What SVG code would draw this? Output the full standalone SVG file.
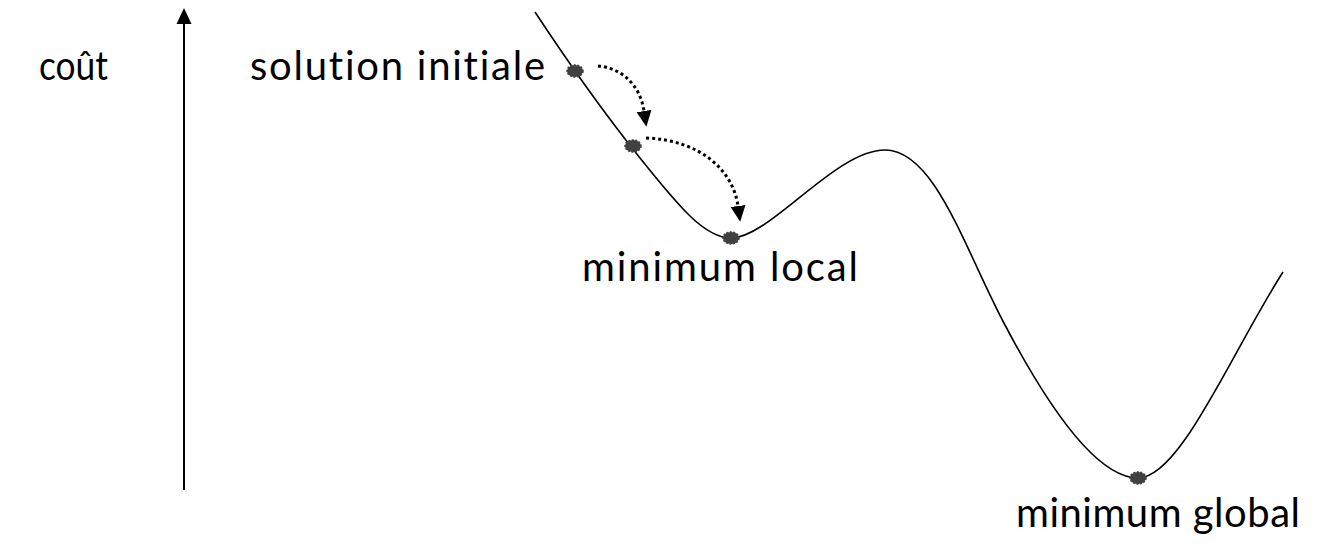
<svg xmlns="http://www.w3.org/2000/svg" width="1326" height="544" viewBox="0 0 1326 544">
  <style>
    .lbl { font-family: "Lato", "Open Sans", "Liberation Sans", sans-serif; font-size: 40px; fill: #000; font-variant-ligatures: none; font-feature-settings: "liga" 0; }
    .curve { fill: none; stroke: #000; stroke-width: 1.6; }
    .step { fill: none; stroke: #000; stroke-width: 3; stroke-dasharray: 3 3; }
    .pt { fill: #404040; stroke: #404040; stroke-width: 1.5; stroke-dasharray: 2 1.5; }
  </style>
  <defs>
    <marker id="tri" markerWidth="16" markerHeight="16" refX="0" refY="8" orient="auto" markerUnits="userSpaceOnUse" viewBox="0 0 16 16">
      <path d="M0,0.5 L16,8 L0,15.5 Z" fill="#000"/>
    </marker>
  </defs>

  <!-- cost axis -->
  <g id="axis">
    <line x1="184" y1="490" x2="184" y2="24" stroke="#000" stroke-width="2" marker-end="url(#tri)"/>
    <text class="lbl" x="39" y="80" textLength="69" lengthAdjust="spacingAndGlyphs">coût</text>
  </g>

  <!-- cost landscape -->
  <g id="landscape">
    <path class="curve" d="M535,12 C560,50 600,108 640,158 C680,208 705,238 731,238 C770,238 835,150 885,150 C935,150 965,250 1005,325 C1055,420 1100,478 1138,478 C1180,478 1230,355 1283,272"/>
  </g>

  <!-- search steps -->
  <g id="steps">
    <path class="step" d="M598,66 C622,68 640,85 644,111" marker-end="url(#tri)"/>
    <path class="step" d="M646,138 C700,140 733,170 738,206" marker-end="url(#tri)"/>
  </g>

  <g id="start">
    <ellipse class="pt" cx="575" cy="71" rx="8" ry="6"/>
    <text class="lbl" x="250" y="80" textLength="295" lengthAdjust="spacing">solution initiale</text>
  </g>
  <g id="step1">
    <ellipse class="pt" cx="633" cy="146" rx="8" ry="6"/>
  </g>
  <g id="local">
    <ellipse class="pt" cx="731" cy="238" rx="8" ry="6"/>
    <text class="lbl" x="582" y="281" textLength="276" lengthAdjust="spacing">minimum local</text>
  </g>
  <g id="global">
    <ellipse class="pt" cx="1138" cy="478" rx="8" ry="6"/>
    <text class="lbl" x="1016" y="527" textLength="284" lengthAdjust="spacing">minimum global</text>
  </g>
</svg>
